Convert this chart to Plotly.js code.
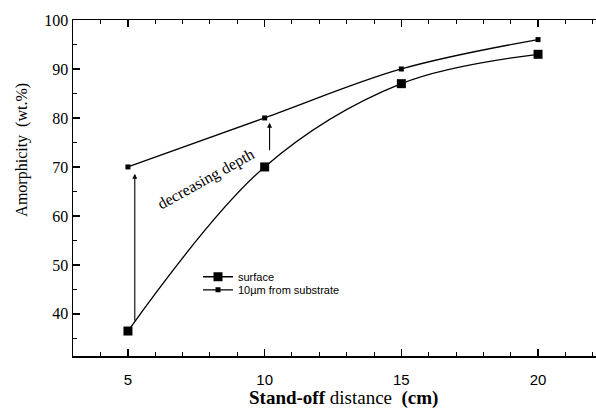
<!DOCTYPE html>
<html>
<head>
<meta charset="utf-8">
<script src="https://cdn.plot.ly/plotly-3.0.1.min.js"></script>
<style>html,body{margin:0;padding:0;background:#fff;}#chart{width:596px;height:419px;}</style>
</head>
<body>
<div id="chart"></div>
<script>
const distance = [5, 10, 15, 20];
const surface = [36.5, 70, 87, 93];
const depth10 = [70, 80, 90, 96];
const seriesNames = ["surface", "10µm from substrate"];
const xTicks = [5, 10, 15, 20];
const yTicks = [40, 50, 60, 70, 80, 90, 100];

const traces = [
  {
    x: distance, y: surface, name: seriesNames[0], type: 'scatter', mode: 'lines+markers',
    legend: 'legend',
    line: {color: '#000', width: 1.3, shape: 'spline', smoothing: 1},
    marker: {symbol: 'square', size: 9, color: '#000'}
  },
  {
    x: distance, y: depth10, name: seriesNames[1], type: 'scatter', mode: 'lines+markers',
    legend: 'legend2',
    line: {color: '#000', width: 1.3, shape: 'spline', smoothing: 1},
    marker: {symbol: 'square', size: 5, color: '#000'}
  }
];

const legendFont = {family: 'Liberation Sans Narrow, Liberation Sans, Arial, sans-serif', size: 11, color: '#000'};

const layout = {
  width: 596, height: 419,
  margin: {l: 73, r: 0, t: 20, b: 63},
  paper_bgcolor: '#fff', plot_bgcolor: '#fff',
  showlegend: true,
  legend: {
    x: 0.239, y: 0.279, xanchor: 'left', yanchor: 'top',
    font: legendFont, bgcolor: 'rgba(0,0,0,0)', itemwidth: 30
  },
  legend2: {
    x: 0.239, y: 0.240, xanchor: 'left', yanchor: 'top',
    font: legendFont, bgcolor: 'rgba(0,0,0,0)', itemwidth: 30
  },
  xaxis: {
    range: [2.99, 22.12], tickvals: xTicks, ticktext: xTicks.map(String),
    showgrid: false, zeroline: false, showline: true, linecolor: '#000', linewidth: 1.5,
    mirror: 'ticks', ticks: 'inside', ticklen: 7, tickwidth: 1.3, tickcolor: '#000',
    ticklabelstandoff: 9,
    minor: {dtick: 1, tick0: 0, ticks: 'inside', ticklen: 4, tickwidth: 1, tickcolor: '#000'},
    tickfont: {family: 'Liberation Sans Narrow, Liberation Sans, Arial, sans-serif', size: 15, color: '#000'}
  },
  yaxis: {
    range: [31.4, 100], tickvals: yTicks, ticktext: yTicks.map(String),
    showgrid: false, zeroline: false, showline: true, linecolor: '#000', linewidth: 1.5,
    ticks: 'inside', ticklen: 7, tickwidth: 1.3, tickcolor: '#000',
    minor: {dtick: 5, tick0: 0, ticks: 'inside', ticklen: 4, tickwidth: 1, tickcolor: '#000'},
    tickfont: {family: 'Liberation Serif, Times New Roman, serif', size: 16, color: '#000'}
  },
  annotations: [
    {x: 5.25, y: 68.6, ax: 5.25, ay: 38.3, xref: 'x', yref: 'y', axref: 'x', ayref: 'y',
     showarrow: true, arrowhead: 2, arrowsize: 0.9, arrowwidth: 1.1, arrowcolor: '#000', text: ''},
    {x: 10.18, y: 79.0, ax: 10.18, ay: 73.1, xref: 'x', yref: 'y', axref: 'x', ayref: 'y',
     showarrow: true, arrowhead: 2, arrowsize: 0.9, arrowwidth: 1.1, arrowcolor: '#000', text: ''},
    {x: 7.87, y: 67.5, xref: 'x', yref: 'y', text: 'decreasing depth', showarrow: false, textangle: -29,
     font: {family: 'Liberation Serif, Times New Roman, serif', size: 16, color: '#000'}},
    {x: -0.118, y: 0.615, xref: 'paper', yref: 'paper', text: 'Amorphicity&nbsp;&nbsp;(wt.%)', showarrow: false,
     textangle: -90, font: {family: 'Liberation Serif, Times New Roman, serif', size: 16, color: '#000'}},
    {x: 0.518, y: -0.125, xref: 'paper', yref: 'paper', yanchor: 'middle',
     text: '<b>Stand-off</b> distance&nbsp;&nbsp;<b>(cm)</b>', showarrow: false,
     font: {family: 'Liberation Serif, Times New Roman, serif', size: 19, color: '#000'}}
  ]
};

Plotly.newPlot('chart', traces, layout, {displayModeBar: false, staticPlot: true});
</script>
</body>
</html>
